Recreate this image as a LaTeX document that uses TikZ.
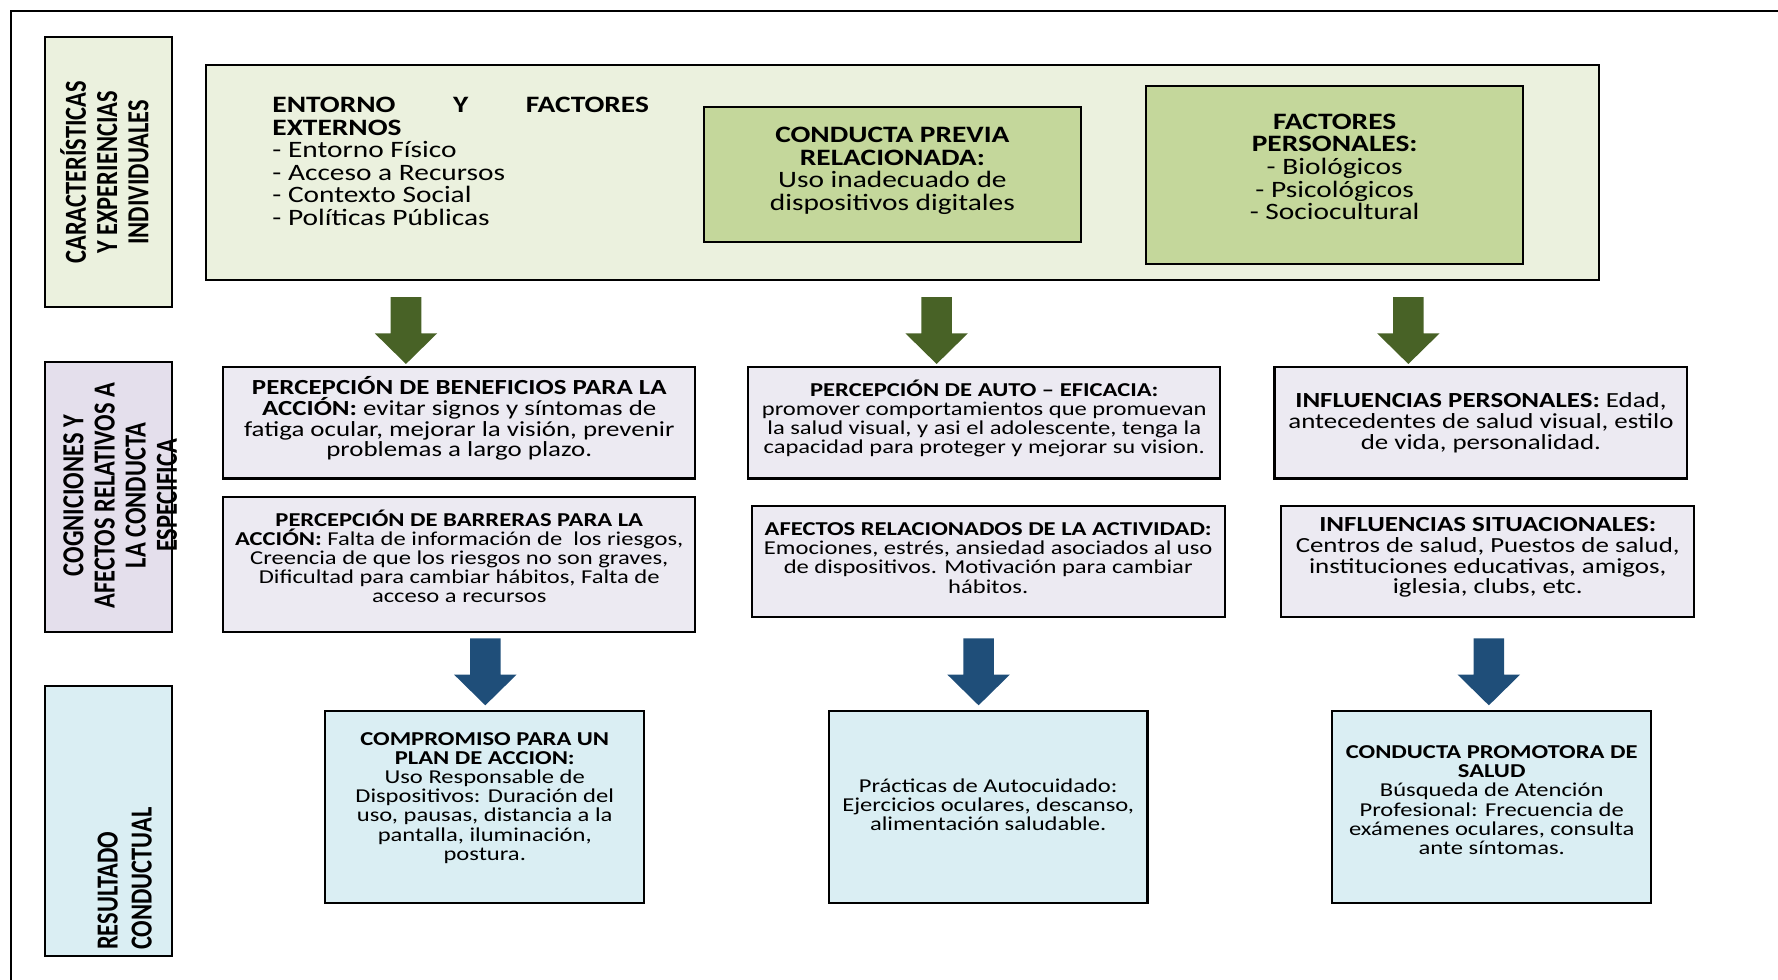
\documentclass[tikz,border=0pt]{standalone}
\usepackage{fontspec}
\setmainfont{Carlito}[FakeStretch=1.25]
\newfontfamily\lblfont{Carlito}[FakeStretch=0.8]

\definecolor{ctxgreen}{RGB}{235,241,222}
\definecolor{midgreen}{RGB}{196,215,155}
\definecolor{cogfill}{RGB}{236,234,242}
\definecolor{coglabel}{RGB}{228,223,236}
\definecolor{resfill}{RGB}{218,238,243}
\definecolor{arrgreen}{RGB}{72,98,38}
\definecolor{arrblue}{RGB}{31,78,121}

\newcommand{\largetxt}{\fontsize{17.7}{17}\selectfont}
\newcommand{\midtxt}{\fontsize{16.2}{15.6}\selectfont}
\newcommand{\smalltxt}{\fontsize{14.8}{14.4}\selectfont}
\newcommand{\lbltxt}{\lblfont\bfseries\fontsize{23}{23.5}\selectfont}

\begin{document}
\begin{tikzpicture}[x=0.03cm, y=-0.03cm,
  box/.style={draw, line width=1.6pt, inner sep=0pt, align=center},
  lift/.style={text depth=#1},
  lblbox/.style={box, minimum width=3.36cm, minimum height=7.14cm},
  lbltext/.style={rotate=90, align=center, inner sep=0pt, font=\lbltxt},
  cogbox/.style={box, fill=cogfill, minimum width=12.48cm, minimum height=2.94cm},
  resbox/.style={box, fill=resfill, minimum width=8.43cm, minimum height=5.07cm, font=\smalltxt},
  blockarrow/.pic={\fill[pic actions] (-13.5,0) -- (-13.5,32) -- (-27.5,32) -- (0,59)
    -- (27.5,32) -- (13.5,32) -- (13.5,0) -- cycle;}]

  \useasboundingbox (0,0) rectangle (1568,864);
  \draw[line width=1.4pt] (10,864) -- (10,10) -- (1568,10);

  % fila 1: caracteristicas y experiencias
  \node[lblbox, fill=ctxgreen] (lbl1) at (96,152) {};
  \node[lbltext] (lbl1t) at (92,152) {CARACTERÍSTICAS\\Y EXPERIENCIAS\\INDIVIDUALES};
  \node[box, fill=ctxgreen, minimum width=36.84cm, minimum height=5.7cm] (ctx) at (796,152) {};
  \node[anchor=north west, align=left, inner sep=0pt, font=\largetxt] (entorno) at (240,85.5)
    {\makebox[9.96cm][l]{\bfseries ENTORNO\hfill Y\hfill FACTORES}\\
     \textbf{EXTERNOS}\\- Entorno Físico\\- Acceso a Recursos\\- Contexto Social\\- Políticas Públicas};
  \node[box, lift=8.6pt, fill=midgreen, minimum width=9.96cm, minimum height=3.57cm, font=\largetxt] (previa) at (787,154)
    {\textbf{CONDUCTA PREVIA}\\\textbf{RELACIONADA:}\\Uso inadecuado de\\dispositivos digitales};
  \node[box, lift=11.9pt, fill=midgreen, minimum width=9.96cm, minimum height=4.71cm, font=\largetxt] (personales) at (1177,154)
    {\textbf{FACTORES}\\\textbf{PERSONALES:}\\- Biológicos\\- Psicológicos\\- Sociocultural};

  \pic[arrgreen] (g1) at (358,262) {blockarrow};
  \pic[arrgreen] (g2) at (826,262) {blockarrow};
  \pic[arrgreen] (g3) at (1242,262) {blockarrow};

  % fila 2: cogniciones y afectos
  \node[lblbox, fill=coglabel] (lbl2) at (96,438) {};
  \node[lbltext] (lbl2t) at (106,437) {COGNICIONES Y\\AFECTOS RELATIVOS A\\LA CONDUCTA\\ESPECIFICA};
  \node[cogbox, lift=9.3pt, font=\midtxt] (benef) at (405,373)
    {\textbf{PERCEPCIÓN DE BENEFICIOS PARA LA}\\\textbf{ACCIÓN:} evitar signos y síntomas de\\fatiga ocular, mejorar la visión, prevenir\\problemas a largo plazo.};
  \node[cogbox, lift=9.8pt, font=\smalltxt] (auto) at (868,373)
    {\textbf{PERCEPCIÓN DE AUTO – EFICACIA:}\\promover comportamientos que promuevan\\la salud visual, y asi el adolescente, tenga la\\capacidad para proteger y mejorar su vision.};
  \node[cogbox, minimum width=10.92cm, font=\midtxt] (inflpers) at (1306,373)
    {\textbf{INFLUENCIAS PERSONALES:} Edad,\\antecedentes de salud visual, estilo\\de vida, personalidad.};
  \node[cogbox, lift=12pt, minimum height=3.57cm, font=\smalltxt] (barreras) at (405,497.5)
    {\textbf{PERCEPCIÓN DE BARRERAS PARA LA}\\\textbf{ACCIÓN:} Falta de información de\ \ los riesgos,\\Creencia de que los riesgos no son graves,\\Dificultad para cambiar hábitos, Falta de\\acceso a recursos};
  \node[cogbox, lift=5.1pt, minimum width=12.51cm, font=\smalltxt] (afectos) at (871.5,495)
    {\textbf{AFECTOS RELACIONADOS DE LA ACTIVIDAD:}\\Emociones, estrés, ansiedad asociados al uso\\de dispositivos. Motivación para cambiar\\hábitos.};
  \node[cogbox, lift=8.4pt, minimum width=10.92cm, font=\midtxt] (inflsit) at (1312,495)
    {\textbf{INFLUENCIAS SITUACIONALES:}\\Centros de salud, Puestos de salud,\\instituciones educativas, amigos,\\iglesia, clubs, etc.};

  \pic[arrblue] (b1) at (428,563) {blockarrow};
  \pic[arrblue] (b2) at (863,563) {blockarrow};
  \pic[arrblue] (b3) at (1313,563) {blockarrow};

  % fila 3: resultado conductual
  \node[lblbox, fill=resfill] (lbl3) at (96,724) {};
  \node[lbltext, anchor=west, align=left, font=\lbltxt\fontsize{23}{25.5}\selectfont] (lbl3t) at (110,838) {RESULTADO\\CONDUCTUAL};
  \node[resbox, lift=15.8pt] (compromiso) at (427.5,711.5)
    {\textbf{COMPROMISO PARA UN}\\\textbf{PLAN DE ACCION:}\\Uso Responsable de\\Dispositivos: Duración del\\uso, pausas, distancia a la\\pantalla, iluminación,\\postura.};
  \node[resbox, lift=3.4pt] (practicas) at (871.5,711.5)
    {Prácticas de Autocuidado:\\Ejercicios oculares, descanso,\\alimentación saludable.};
  \node[resbox, lift=10.2pt] (promotora) at (1315.5,711.5)
    {\textbf{CONDUCTA PROMOTORA DE}\\\textbf{SALUD}\\Búsqueda de Atención\\Profesional: Frecuencia de\\exámenes oculares, consulta\\ante síntomas.};
\end{tikzpicture}
\end{document}
